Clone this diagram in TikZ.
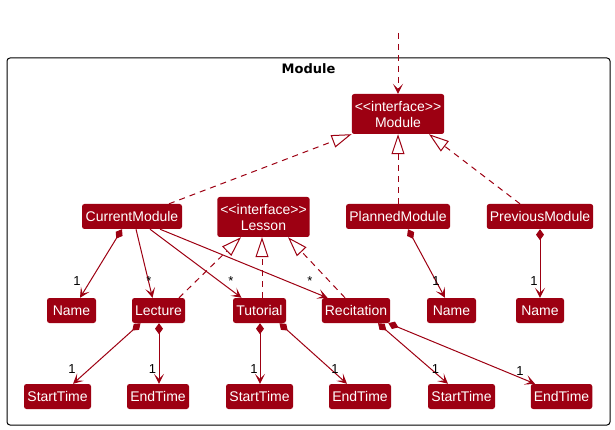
\documentclass[tikz,border=0pt]{standalone}
\usepackage{fontspec}
\setmainfont{Liberation Sans}
\newfontfamily\titlefont{DejaVu Sans}
\usetikzlibrary{arrows.meta}
\definecolor{modelred}{HTML}{9D0012}

\begin{document}
\begin{tikzpicture}[x=1pt, y=-1pt,
  cls/.style = {rectangle, rounded corners=2.5pt, fill=modelred, text=white,
    inner xsep=3pt, inner ysep=0pt, minimum height=25pt, font=\fontsize{14}{16}\selectfont},
  iface/.style = {cls, align=center, minimum height=40pt},
  mult/.style = {inner sep=0pt, font=\fontsize{13}{15}\selectfont},
  link/.style = {draw=modelred, line width=1pt},
  dep/.style = {link, dash pattern=on 6pt off 5pt, -{Stealth[length=10pt, width=10pt, inset=5pt]}},
  real/.style = {link, dash pattern=on 6pt off 5pt, -{Triangle[length=20pt, width=13pt, fill=white]}},
  comp/.style = {link, {Diamond[length=11pt, width=8pt]}-{Stealth[length=10pt, width=10pt, inset=5pt]}},
  assoc/.style = {link, -{Stealth[length=10pt, width=10pt, inset=5pt]}},
  ]
  \useasboundingbox (0,0) rectangle (615,430);
  \draw[line width=1pt, rounded corners=3pt] (7,58) rectangle (610,425);
  \node[font=\fontsize{13}{15}\selectfont\titlefont\bfseries] (title) at (308.5,69) {Module};

  \node[iface, minimum width=92pt] (modif) at (398,114) {{<}{<}interface{>}{>}\\Module};
  \node[cls, minimum width=100pt] (cur) at (132,216.5) {CurrentModule};
  \node[iface, minimum width=91pt] (lesson) at (263.5,217) {{<}{<}interface{>}{>}\\Lesson};
  \node[cls, minimum width=104pt] (planned) at (398,216.5) {PlannedModule};
  \node[cls, minimum width=106pt] (previous) at (540,216.5) {PreviousModule};

  \node[cls, minimum width=49pt] (name1) at (71.5,310.5) {Name};
  \node[cls, minimum width=53pt] (lecture) at (158.5,310.5) {Lecture};
  \node[cls, minimum width=53pt] (tutorial) at (259.5,310.5) {Tutorial};
  \node[cls, minimum width=68pt] (recitation) at (356,310.5) {Recitation};
  \node[cls, minimum width=49pt] (name2) at (451.5,310.5) {Name};
  \node[cls, minimum width=48pt] (name3) at (540,310.5) {Name};

  \node[cls, minimum width=67pt] (st1) at (57.5,396.5) {StartTime};
  \node[cls, minimum width=62pt] (et1) at (158,396.5) {EndTime};
  \node[cls, minimum width=67pt] (st2) at (259.5,396.5) {StartTime};
  \node[cls, minimum width=62pt] (et2) at (360,396.5) {EndTime};
  \node[cls, minimum width=67pt] (st3) at (461.5,396.5) {StartTime};
  \node[cls, minimum width=61pt] (et3) at (561.5,396.5) {EndTime};

  \coordinate (ext) at (398,33);
  \draw[dep] (ext) -- (modif.north);

  \draw[real] ([xshift=37pt]cur.north) -- (modif.south west);
  \draw[real] (planned.north) -- (modif.south);
  \draw[real] ([xshift=-20pt]previous.north) -- ([xshift=31pt]modif.south);
  \draw[real] ([xshift=20.5pt]lecture.north) -- ([xshift=-22.5pt]lesson.south);
  \draw[real] ([xshift=2.5pt]tutorial.north) -- ([xshift=-1.5pt]lesson.south);
  \draw[real] ([xshift=-11pt]recitation.north) -- ([xshift=24.5pt]lesson.south);

  \draw[comp] ([xshift=-10pt]cur.south) -- ([xshift=8.5pt]name1.north);
  \draw[assoc] ([xshift=4pt]cur.south) -- ([xshift=-6pt]lecture.north);
  \draw[assoc] ([xshift=18pt]cur.south) -- ([xshift=-18pt]tutorial.north);
  \draw[assoc] ([xshift=28pt]cur.south) -- ([xshift=-28.5pt]recitation.north);
  \draw[comp] ([xshift=10pt]planned.south) -- ([xshift=-6.5pt]name2.north);
  \draw[comp] (previous.south) -- (name3.north);

  \draw[comp] ([xshift=-18pt]lecture.south) -- ([xshift=15.5pt]st1.north);
  \draw[comp] ([xshift=0.5pt]lecture.south) -- ([xshift=1pt]et1.north);
  \draw[comp] ([xshift=0.5pt]tutorial.south) -- ([xshift=0.5pt]st2.north);
  \draw[comp] ([xshift=20pt]tutorial.south) -- ([xshift=-13pt]et2.north);
  \draw[comp] ([xshift=22pt]recitation.south) -- ([xshift=-13.5pt]st3.north);
  \draw[comp] ([xshift=-2pt]recitation.south east) -- ([xshift=-26.5pt]et3.north);

  \node[mult] (m1) at (77,281) {1};
  \node[mult] (m2) at (149,281.5) {*};
  \node[mult] (m3) at (231,281.5) {*};
  \node[mult] (m4) at (310,281.5) {*};
  \node[mult] (m5) at (436,281) {1};
  \node[mult] (m6) at (534,281) {1};
  \node[mult] (m7) at (72,369) {1};
  \node[mult] (m8) at (152.5,369) {1};
  \node[mult] (m9) at (254,369) {1};
  \node[mult] (m10) at (335,369) {1};
  \node[mult] (m11) at (435.5,369) {1};
  \node[mult] (m12) at (520,371) {1};
\end{tikzpicture}
\end{document}
